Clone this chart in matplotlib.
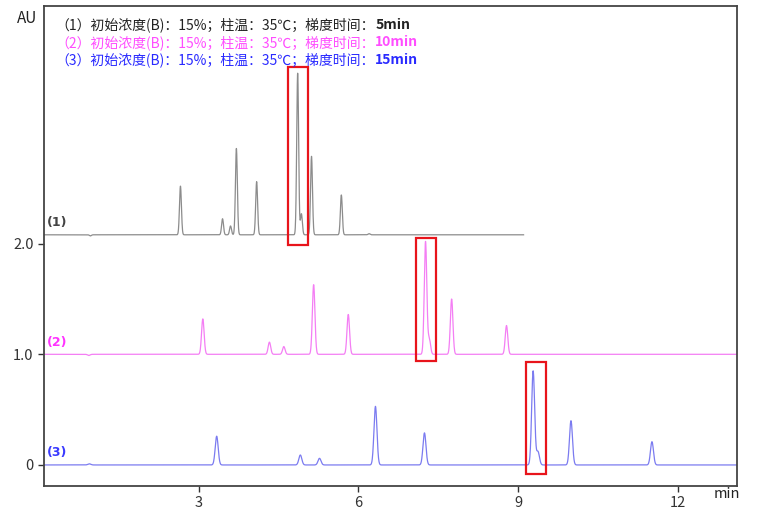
import numpy as np
import matplotlib.pyplot as plt
from matplotlib.patches import Rectangle

plt.rcParams['font.family'] = ['Noto Sans CJK SC', 'DejaVu Sans']

# retention times (min) and peak heights (AU)
rt_1 = [0.97, 2.66, 3.45, 3.60, 3.71, 4.09, 4.86, 4.93, 5.12, 5.68, 6.2]
h_1 = [-0.01, 0.44, 0.145, 0.08, 0.78, 0.48, 1.46, 0.19, 0.71, 0.36, 0.01]
rt_2 = [0.94, 3.08, 4.33, 4.60, 5.16, 5.81, 7.26, 7.33, 7.75, 8.78]
h_2 = [-0.01, 0.32, 0.11, 0.07, 0.63, 0.36, 1.02, 0.14, 0.50, 0.26]
rt_3 = [0.95, 3.34, 4.91, 5.27, 6.32, 7.24, 9.28, 9.37, 9.99, 11.51]
h_3 = [0.01, 0.26, 0.09, 0.06, 0.53, 0.29, 0.85, 0.12, 0.40, 0.21]

baselines = [2.08, 1.0, 0.0]
run_end = [9.1, 13.1, 13.1]
widths = [0.018, 0.024, 0.028]

legend_lines = ['（1）初始浓度(B)：15%；柱温：35℃；梯度时间：',
                '（2）初始浓度(B)：15%；柱温：35℃；梯度时间：',
                '（3）初始浓度(B)：15%；柱温：35℃；梯度时间：']
grad_times = ['5min', '10min', '15min']
trace_labels = ['(1)', '(2)', '(3)']

# red highlight boxes: (t0, t1, y0, y1)
boxes = [(4.68, 5.06, 1.99, 3.6), (7.09, 7.46, 0.94, 2.05), (9.15, 9.52, -0.08, 0.93)]

line_colors = ['#8c8c8c', '#f47ef4', '#7b7bf0']
text_colors = ['#222222', '#ff4dff', '#2a2aff']
label_colors = ['#444444', '#ff33ff', '#3a3aff']

fig = plt.figure(figsize=(7.73, 5.22), dpi=100)
ax = fig.add_axes([0.057, 0.069, 0.896, 0.92])

for rts, hs, base, end, w, c in zip([rt_1, rt_2, rt_3], [h_1, h_2, h_3],
                                     baselines, run_end, widths, line_colors):
    t = np.linspace(0.1, end, 4000)
    y = np.full_like(t, base)
    for r, h in zip(rts, hs):
        y += h * np.exp(-0.5 * ((t - r) / w) ** 2)
    ax.plot(t, y, color=c, lw=0.9)

for t0, t1, y0, y1 in boxes:
    ax.add_patch(Rectangle((t0, y0), t1 - t0, y1 - y0, fill=False,
                           edgecolor='#e8141b', lw=1.6, zorder=5))

for base, lab, c in zip(baselines, trace_labels, label_colors):
    ax.text(0.15, base + 0.05, lab, color=c, fontsize=9, fontweight='bold',
            family='DejaVu Sans', va='bottom', ha='left')

for i, (txt, gt, c) in enumerate(zip(legend_lines, grad_times, text_colors)):
    t1 = fig.text(0.072, 0.952 - i * 0.033, txt, color=c, fontsize=10, va='center')
    ax.annotate(gt, xy=(1, 0.5), xycoords=t1, va='center', ha='left',
                color=c, fontsize=10, fontweight='bold')

ax.set_xlim(0.1, 13.1)
ax.set_ylim(-0.19, 4.15)
ax.set_xticks([3, 6, 9, 12])
ax.set_yticks([0, 1, 2])
ax.set_yticklabels(['0', '1.0', '2.0'])
ax.tick_params(direction='out', length=4, width=1, colors='#333333', labelsize=10.5)
for s in ax.spines.values():
    s.set_color('#444444')
    s.set_linewidth(1.3)

fig.text(0.022, 0.965, 'AU', fontsize=11, color='#222222', va='center')
fig.text(0.923, 0.04, 'min', fontsize=10.5, color='#222222', va='bottom')

fig.savefig('out.png', dpi=100)
